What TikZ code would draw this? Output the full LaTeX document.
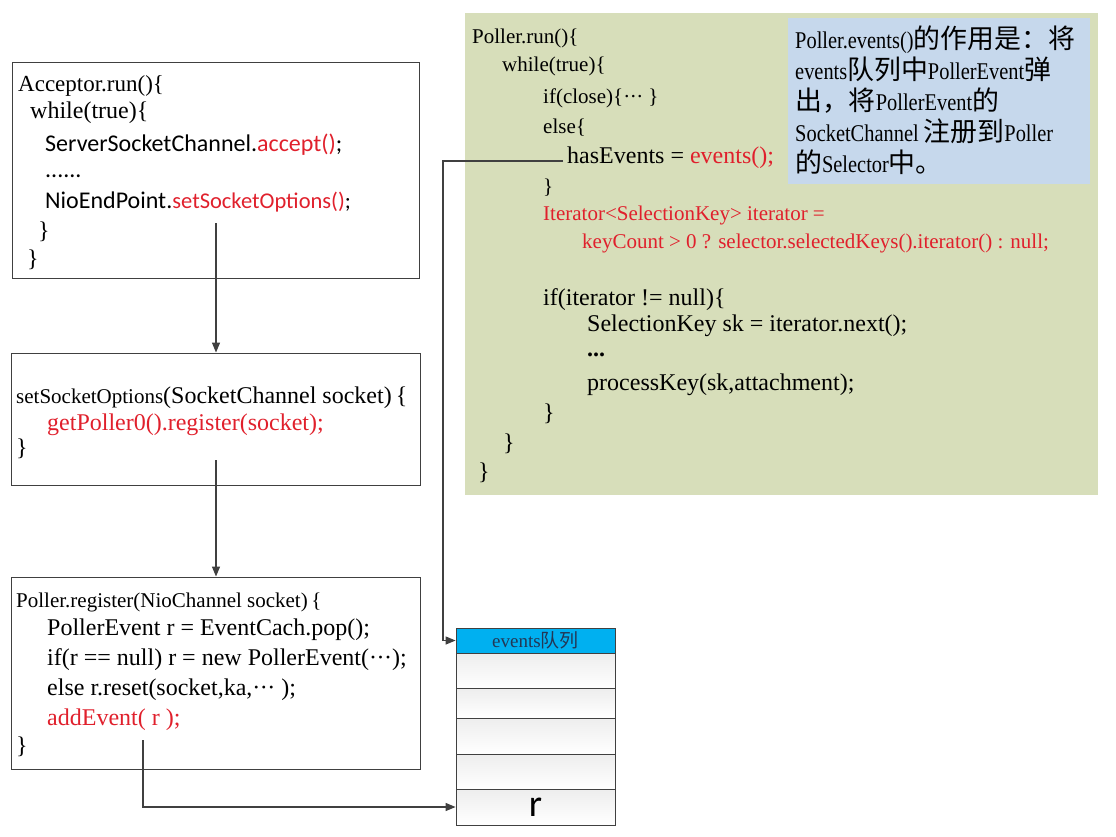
\documentclass[tikz,border=0pt]{standalone}
\usepackage{fontspec}
\setmainfont{Liberation Serif}
\newfontfamily\calib{Carlito}
\newfontfamily\cjk{Noto Sans CJK SC}
\newfontfamily\notecjk{Noto Sans CJK SC}[Scale=1.12]
\newfontfamily\notefont{Liberation Serif}[FakeStretch=0.85]
\usetikzlibrary{arrows.meta}

\definecolor{codered}{RGB}{224,32,44}
\definecolor{pollergreen}{RGB}{215,222,186}
\definecolor{noteblue}{RGB}{198,216,236}
\definecolor{queuecyan}{RGB}{0,176,240}
\definecolor{linegray}{RGB}{64,64,64}
\definecolor{headtext}{RGB}{35,55,85}

\newcommand\middots{·\kern-0.5pt·\kern-0.5pt·}

\tikzset{
  codebox/.style={draw=linegray, line width=0.9pt, inner sep=0pt},
  code/.style={anchor=base west, inner sep=0pt, font=\fontsize{24}{28}\selectfont},
  small/.style={anchor=base west, inner sep=0pt, font=\fontsize{21}{26}\selectfont},
  redline/.style={anchor=base west, inner sep=0pt, text=codered, font=\fontsize{21}{24}\selectfont},
  flow/.style={draw=linegray, line width=1.2pt, -{Triangle[length=10pt,width=8pt]}},
  cell/.style={draw=linegray, line width=0.8pt, top color=gray!14, bottom color=white,
    minimum width=159pt, inner sep=0pt}
}

\begin{document}
\begin{tikzpicture}[x=1pt,y=-1pt]
  \useasboundingbox (0,0) rectangle (1116,836);

  % left column: three code boxes
  \node[codebox, minimum width=407pt, minimum height=216pt] (acceptor) at (215.5,170) {};
  \node[codebox, minimum width=409pt, minimum height=132pt] (options) at (215.5,419) {};
  \node[codebox, minimum width=409pt, minimum height=192pt] (register) at (215.5,673) {};

  \node[code, font=\fontsize{23}{28}\selectfont] (a1) at (18,91) {Acceptor.run()\{};
  \node[code] (a2) at (30,118) {while(true)\{};
  \node[code, font=\calib\fontsize{24}{28}\selectfont] (a3) at (45,151)
    {ServerSocketChannel.\textcolor{codered}{accept()};};
  \node[code, font=\calib\fontsize{24}{28}\selectfont] (a4) at (45,177) {......};
  \node[code, font=\calib\fontsize{24}{28}\selectfont] (a5) at (45,208)
    {NioEndPoint.{\fontsize{22.5}{26}\selectfont\textcolor{codered}{setSocketOptions()};}};
  \node[code] (a6) at (38,238) {\}};
  \node[code] (a7) at (27,266) {\}};

  \node[code] (o1) at (16,403) {{\fontsize{21}{26}\selectfont setSocketOptions}(SocketChannel socket)\,\{};
  \node[code, text=codered] (o2) at (47,430) {getPoller0().register(socket);};
  \node[code] (o3) at (16,455) {\}};

  \node[small] (r1) at (16,607) {Poller.register(NioChannel socket)\,\{};
  \node[code] (r2) at (47,635) {PollerEvent r = EventCach.pop();};
  \node[code] (r3) at (47,665) {if(r == null) r = new PollerEvent(\middots);};
  \node[code] (r4) at (47,695) {else r.reset(socket,ka,\middots\ );};
  \node[code, text=codered] (r5) at (47,725) {addEvent( r );};
  \node[code] (r6) at (16,753) {\}};

  % Poller.run() panel
  \node[fill=pollergreen, minimum width=633pt, minimum height=482pt, inner sep=0pt] (poller) at (781.5,254) {};
  \node[fill=noteblue, minimum width=302pt, minimum height=166pt, inner sep=0pt] (note) at (939,101) {};

  \node[small] (p1) at (472,43) {Poller.run()\{};
  \node[small] (p2) at (502,71) {while(true)\{};
  \node[small] (p3) at (543,103) {if(close)\{\middots\ \}};
  \node[small] (p4) at (543,133) {else\{};
  \node[code] (p5) at (567,163) {hasEvents = \textcolor{codered}{events();}};
  \node[small] (p6) at (543,193) {\}};
  \node[redline] (p7) at (543,220) {Iterator<SelectionKey> iterator =};
  \node[redline] (p8) at (582,248) {keyCount > 0 ? selector.selectedKeys().iterator() : null;};
  \node[code] (p9) at (543,305) {if(iterator != null)\{};
  \node[code] (p10) at (587,331) {SelectionKey sk = iterator.next();};
  \node[code] (p11) at (587,356) {\textbf{...}};
  \node[code] (p12) at (587,390) {processKey(sk,attachment);};
  \node[code] (p13) at (543,420) {\}};
  \node[code] (p14) at (503,450) {\}};
  \node[code] (p15) at (478,479) {\}};

  \foreach \txt [count=\i] in {%
      Poller.events(){\notecjk 的作用是：将},
      events{\notecjk 队列中}PollerEvent{\notecjk 弹},
      {\notecjk 出，将}PollerEvent{\notecjk 的},
      SocketChannel {\notecjk 注册到}Poller,
      {\notecjk 的}Selector{\notecjk 中。}}
    \node[anchor=base west, inner sep=0pt, font=\notefont\fontsize{24}{28}\selectfont]
      (note\i) at (795,17+31*\i) {\txt};

  % events queue
  \node[draw=linegray, fill=queuecyan, line width=0.8pt, minimum width=159pt, minimum height=25pt,
    inner sep=0pt, text=headtext, font=\fontsize{19}{20}\selectfont] (head) at (535.5,640.5) {events{\cjk 队列}};
  \node[cell, minimum height=35pt] (slot1) at (535.5,670.5) {};
  \node[cell, minimum height=30pt] (slot2) at (535.5,703) {};
  \node[cell, minimum height=36pt] (slot3) at (535.5,736) {};
  \node[cell, minimum height=35pt] (slot4) at (535.5,771.5) {};
  \node[cell, minimum height=36pt, font=\calib\fontsize{38}{38}\selectfont] (slot5) at (535.5,807) {r};

  % connectors
  \coordinate (optout) at (216,223);
  \coordinate (regout) at (216,460);
  \coordinate (addout) at (143,740);
  \coordinate (evout) at (563,161);
  \coordinate (bend) at (443,161);
  \draw[flow] (optout) -- (optout |- options.north);
  \draw[flow] (regout) -- (regout |- register.north);
  \draw[flow] (addout) |- (slot5.west);
  \draw[flow] (evout) -- (bend) |- (head.west);
\end{tikzpicture}
\end{document}
